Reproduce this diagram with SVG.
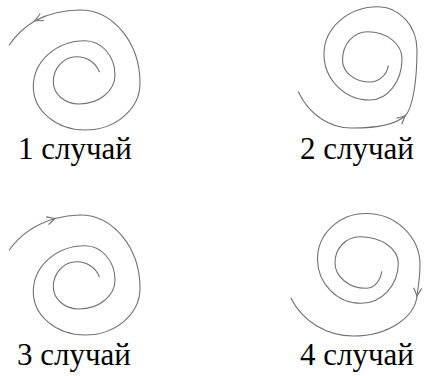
<svg xmlns="http://www.w3.org/2000/svg" xmlns:xlink="http://www.w3.org/1999/xlink" width="428" height="376" viewBox="0 0 428 376">
<style>
.sp{fill:none;stroke:#707070;stroke-width:1.1;stroke-linecap:round}
.lbl{font-family:"Liberation Serif",serif;font-size:31px;fill:#000}
</style>
<defs>
<marker id="ah" markerUnits="userSpaceOnUse" markerWidth="12" markerHeight="12" viewBox="-10 -6 12 12" refX="0" refY="0" orient="auto" overflow="visible">
<path d="M-8,-4 L0,0 L-8,4" fill="none" stroke="#707070" stroke-width="1.1"/>
</marker>
<path id="s13" class="sp" d="M99.3,71.7 A24,23.5 0 0 0 76.7,56.7 A23.4,25 0 0 0 53.3,81.7 A25.7,22.3 0 0 0 79,104 A36,29 0 0 0 115,75 A30,34.3 0 0 0 85,40.7 A51.7,46 0 0 0 33.3,86.7 A51.7,43.3 0 0 0 85,130 A55,46.7 0 0 0 140,83.3 A60,73.3 0 0 0 80,10"/>
</defs>
<g id="case1">
<use xlink:href="#s13" href="#s13"/>
<path class="sp" d="M80,10 A86,73 0 0 0 35,20.7" marker-end="url(#ah)"/>
<path class="sp" d="M35,20.7 A86,73 0 0 0 9.3,45"/>
<text class="lbl" x="18" y="159">1 случай</text>
</g>
<g id="case2">
<path class="sp" d="M388.3,65.8 A18.6,20 0 0 1 370,82 A27.5,22 0 0 1 342.5,60 A25,28.3 0 0 1 367.5,31.7 A34.5,27 0 0 1 402,58.7 A32,41.3 0 0 1 370,100 A46,46 0 0 1 324,54 A54,47.3 0 0 1 378,6.7 A39,43.3 0 0 1 417,50 C417,80 413,108 405,116"/>
<path class="sp" d="M298.3,91.7 A60,68 0 0 0 353,128 C378,128 396,124 405,116" marker-end="url(#ah)"/>
<text class="lbl" x="300" y="159">2 случай</text>
</g>
<g id="case3">
<g transform="translate(0,205)">
<use xlink:href="#s13" href="#s13"/>
<path class="sp" d="M80,10 A86,73 0 0 0 55,13.5"/>
<path class="sp" d="M9.3,45 A86,73 0 0 1 55,13.5" marker-end="url(#ah)"/>
</g>
<text class="lbl" x="17" y="365">3 случай</text>
</g>
<g id="case4">
<path class="sp" d="M381.7,271.7 A16,20 0 0 1 366,288.3 A31,25.8 0 0 1 335,262.5 A25,25.8 0 0 1 360,236.7 A38.3,26.6 0 0 1 398.3,263.3 A37.3,40 0 0 1 361,303.3 A43.5,44.3 0 0 1 317.5,259 A48.5,45.5 0 0 1 366,213.5 A54,51.5 0 0 1 420,265 C420,280 417.5,290 417,296" marker-end="url(#ah)"/>
<path class="sp" d="M417,296 C415,316 390,336 353.3,336 A69,66 0 0 1 291,298.3"/>
<text class="lbl" x="300" y="365">4 случай</text>
</g>
</svg>
